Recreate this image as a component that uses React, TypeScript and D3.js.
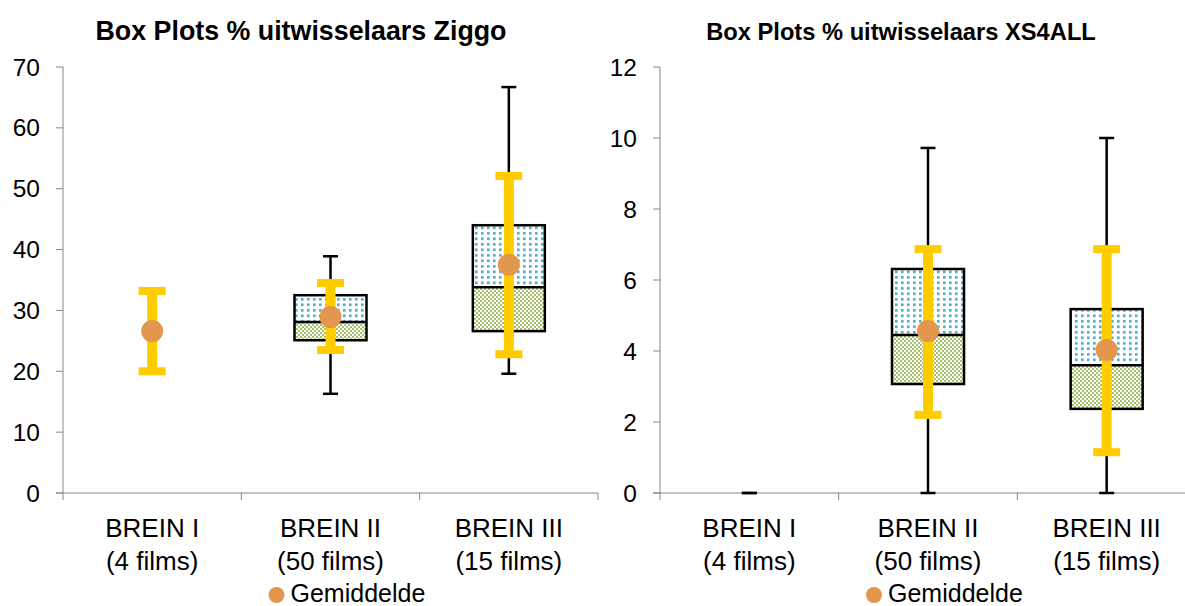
import React from "react";
import * as d3 from "d3";

const categories = ["BREIN I", "BREIN II", "BREIN III"];
const categorySub = ["(4 films)", "(50 films)", "(15 films)"];

// Ziggo panel
const zigMin = [null, 16.3, 19.6];
const zigQ1 = [null, 25.1, 26.6];
const zigMedian = [null, 28.1, 33.8];
const zigQ3 = [null, 32.5, 44.0];
const zigMax = [null, 38.9, 66.7];
const zigMean = [26.6, 28.9, 37.5];
const zigErrLow = [20.0, 23.5, 22.8];
const zigErrHigh = [33.2, 34.5, 52.1];
const zigTicks = [0, 10, 20, 30, 40, 50, 60, 70];

// XS4ALL panel
const xsMin = [0, 0, 0];
const xsQ1 = [null, 3.07, 2.37];
const xsMedian = [null, 4.45, 3.6];
const xsQ3 = [null, 6.31, 5.18];
const xsMax = [0, 9.72, 10.0];
const xsMean = [null, 4.56, 4.03];
const xsErrLow = [null, 2.2, 1.15];
const xsErrHigh = [null, 6.87, 6.87];
const xsTicks = [0, 2, 4, 6, 8, 10, 12];

const FONT = "'Liberation Sans', Arial, sans-serif";
const AXIS = "#868686";
const YELLOW = "#FFCC00";
const MEAN = "#E2964E";

type PanelProps = {
  title: string;
  titleSize: number;
  titleX: number;
  x0: number;
  x1: number;
  yMax: number;
  ticks: number[];
  mins: (number | null)[];
  q1: (number | null)[];
  med: (number | null)[];
  q3: (number | null)[];
  maxs: (number | null)[];
  means: (number | null)[];
  errLow: (number | null)[];
  errHigh: (number | null)[];
};

function Panel(p: PanelProps) {
  const top = 67;
  const bottom = 493;
  const x = d3.scaleBand<string>().domain(categories).range([p.x0, p.x1]).padding(0);
  const y = d3.scaleLinear().domain([0, p.yMax]).range([bottom, top]);
  const cx = (c: string) => (x(c) as number) + x.bandwidth() / 2;
  const boxW = 72;
  const capW = 15;
  const errW = 10;
  const errCapW = 27;
  const errCapH = 8;
  const tickEdges = categories.map((c) => x(c) as number).concat([p.x1]);
  return (
    <g>
      <text
        x={p.titleX}
        y={40}
        textAnchor="middle"
        fontFamily={FONT}
        fontWeight="bold"
        fontSize={p.titleSize}
        fill="#000"
      >
        {p.title}
      </text>
      {/* y axis */}
      <line x1={p.x0} x2={p.x0} y1={top} y2={bottom} stroke={AXIS} strokeWidth={1} />
      {p.ticks.map((t) => (
        <g key={t}>
          <line x1={p.x0 - 7} x2={p.x0} y1={y(t)} y2={y(t)} stroke={AXIS} strokeWidth={1} />
          <text
            x={p.x0 - 23}
            y={y(t)}
            dy="0.35em"
            textAnchor="end"
            fontFamily={FONT}
            fontSize={24.5}
            fill="#000"
          >
            {t}
          </text>
        </g>
      ))}
      {/* x axis */}
      <line x1={p.x0 - 7} x2={p.x1} y1={bottom} y2={bottom} stroke={AXIS} strokeWidth={1} />
      {tickEdges.map((e, i) => (
        <line key={i} x1={e} x2={e} y1={bottom} y2={bottom + 7} stroke={AXIS} strokeWidth={1} />
      ))}
      {categories.map((c, i) => (
        <g key={c}>
          <text x={cx(c)} y={537} textAnchor="middle" fontFamily={FONT} fontSize={26} fill="#000">
            {c}
          </text>
          <text x={cx(c)} y={570} textAnchor="middle" fontFamily={FONT} fontSize={26} fill="#000">
            {categorySub[i]}
          </text>
        </g>
      ))}
      {/* boxes */}
      {categories.map((c, i) => {
        const X = cx(c);
        const mn = p.mins[i];
        const mx = p.maxs[i];
        const a = p.q1[i];
        const m = p.med[i];
        const b = p.q3[i];
        return (
          <g key={"b" + c}>
            {mn != null && mx != null && (
              <g>
                <line x1={X} x2={X} y1={y(mn)} y2={y(mx)} stroke="#000" strokeWidth={2.5} />
                <line x1={X - capW / 2} x2={X + capW / 2} y1={y(mn)} y2={y(mn)} stroke="#000" strokeWidth={2.5} />
                <line x1={X - capW / 2} x2={X + capW / 2} y1={y(mx)} y2={y(mx)} stroke="#000" strokeWidth={2.5} />
              </g>
            )}
            {a != null && m != null && b != null && (
              <g>
                <rect x={X - boxW / 2} y={y(m)} width={boxW} height={y(a) - y(m)} fill="url(#checker)" />
                <rect x={X - boxW / 2} y={y(b)} width={boxW} height={y(m) - y(b)} fill="url(#dots)" />
                <rect
                  x={X - boxW / 2}
                  y={y(b)}
                  width={boxW}
                  height={y(a) - y(b)}
                  fill="none"
                  stroke="#000"
                  strokeWidth={2.5}
                />
                <line x1={X - boxW / 2} x2={X + boxW / 2} y1={y(m)} y2={y(m)} stroke="#000" strokeWidth={2.5} />
              </g>
            )}
          </g>
        );
      })}
      {/* error bars and means */}
      {categories.map((c, i) => {
        const X = cx(c);
        const lo = p.errLow[i];
        const hi = p.errHigh[i];
        const mu = p.means[i];
        return (
          <g key={"e" + c}>
            {lo != null && hi != null && (
              <g>
                <rect x={X - errW / 2} y={y(hi)} width={errW} height={y(lo) - y(hi)} fill={YELLOW} />
                <rect x={X - errCapW / 2} y={y(hi) - errCapH / 2} width={errCapW} height={errCapH} fill={YELLOW} />
                <rect x={X - errCapW / 2} y={y(lo) - errCapH / 2} width={errCapW} height={errCapH} fill={YELLOW} />
              </g>
            )}
            {mu != null && <circle cx={X} cy={y(mu)} r={11} fill={MEAN} />}
          </g>
        );
      })}
      {/* legend */}
      <circle cx={cx(categories[1]) - 54} cy={595} r={8} fill={MEAN} />
      <text x={cx(categories[1]) - 40} y={602} fontFamily={FONT} fontSize={25} fill="#000">
        Gemiddelde
      </text>
    </g>
  );
}

export default function App() {
  return (
    <svg
      width={1185}
      height={606}
      style={{ position: "absolute", left: 0, top: 0, background: "#fff" }}
    >
      <defs>
        <pattern id="dots" width={6} height={5.5} patternUnits="userSpaceOnUse">
          <rect width={6} height={5.5} fill="#fff" />
          <rect x={1} y={1} width={2.6} height={2.6} fill="#4BACC6" />
        </pattern>
        <pattern id="checker" width={4} height={4} patternUnits="userSpaceOnUse">
          <rect width={4} height={4} fill="#fff" />
          <rect x={0} y={0} width={2} height={2} fill="#A6C36C" />
          <rect x={2} y={2} width={2} height={2} fill="#A6C36C" />
        </pattern>
      </defs>
      <rect width={1185} height={606} fill="#fff" />
      <Panel
        title="Box Plots % uitwisselaars Ziggo"
        titleSize={26.8}
        titleX={301}
        x0={63}
        x1={598}
        yMax={70}
        ticks={zigTicks}
        mins={zigMin}
        q1={zigQ1}
        med={zigMedian}
        q3={zigQ3}
        maxs={zigMax}
        means={zigMean}
        errLow={zigErrLow}
        errHigh={zigErrHigh}
      />
      <Panel
        title="Box Plots % uitwisselaars XS4ALL"
        titleSize={23.7}
        titleX={901}
        x0={660}
        x1={1196}
        yMax={12}
        ticks={xsTicks}
        mins={xsMin}
        q1={xsQ1}
        med={xsMedian}
        q3={xsQ3}
        maxs={xsMax}
        means={xsMean}
        errLow={xsErrLow}
        errHigh={xsErrHigh}
      />
    </svg>
  );
}
